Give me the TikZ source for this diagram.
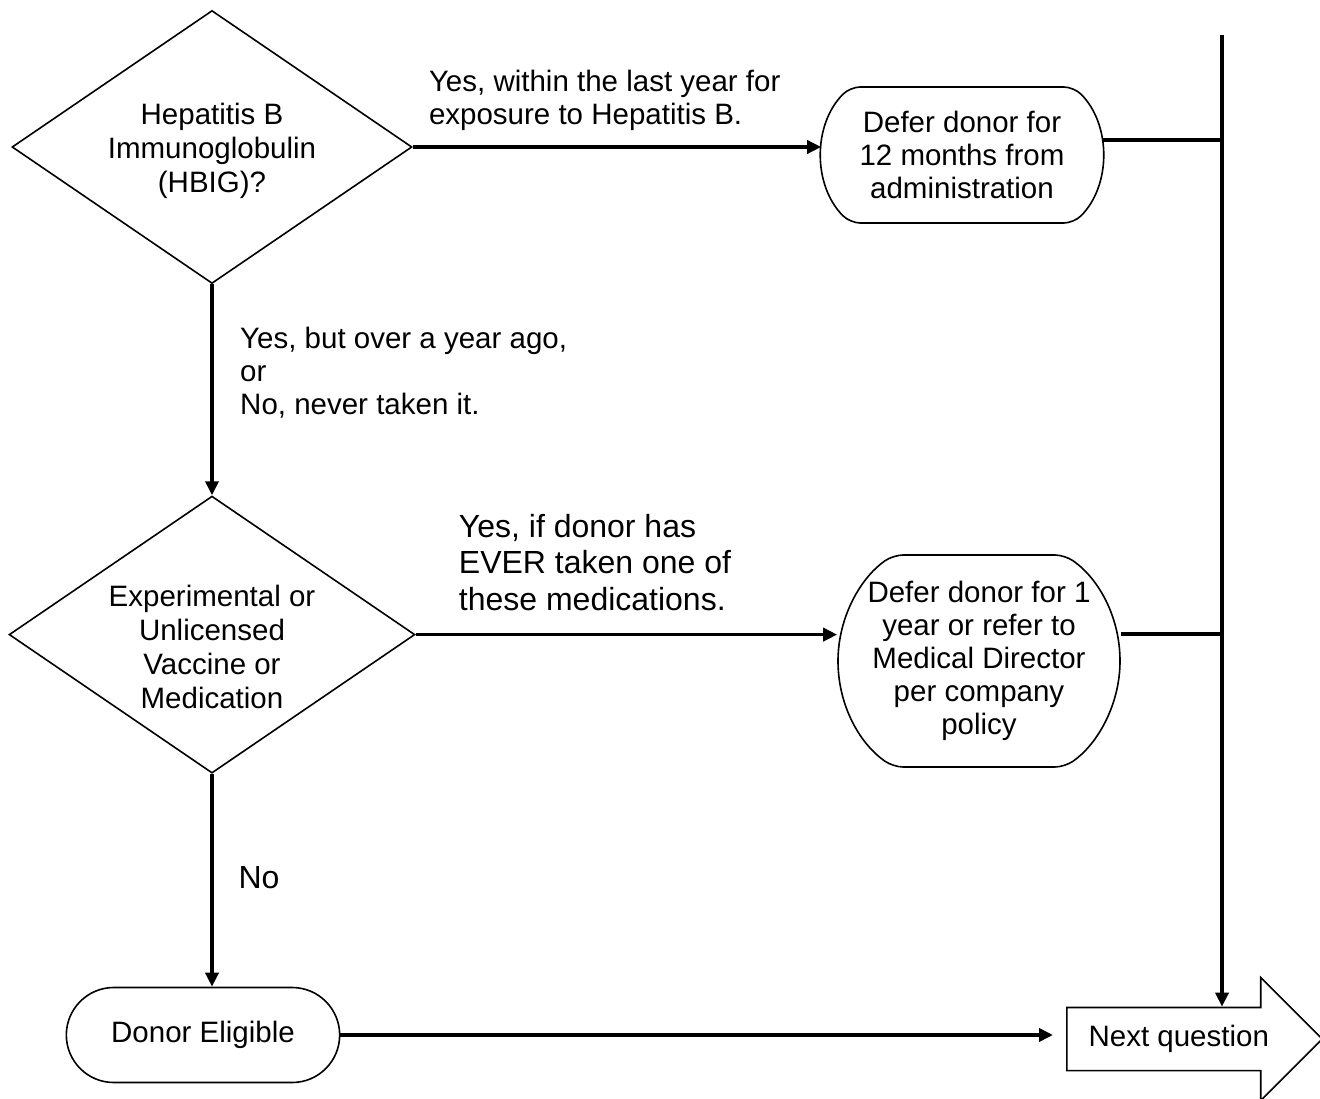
\documentclass[tikz,border=0pt]{standalone}
\usepackage{fontspec}
\setmainfont{Liberation Sans}
\usetikzlibrary{shapes.geometric,shapes.misc,shapes.arrows}
\usetikzlibrary{arrows.meta}
\usetikzlibrary{positioning}

\begin{document}
\begin{tikzpicture}[x=1pt,y=-1pt,>={Triangle[length=14pt,width=13pt]},
    dec/.style={draw,diamond,aspect=1.465,minimum width=400pt,minimum height=273pt,inner sep=0pt,align=center,line width=1.6pt,font=\fontsize{29.5}{34}\selectfont},
    defer/.style={draw,rounded rectangle,rounded rectangle arc length=90,rounded corners=10pt,inner sep=0pt,align=center,line width=1.6pt,font=\fontsize{29.5}{33}\selectfont},
    term/.style={draw,rounded rectangle,minimum width=280pt,minimum height=95pt,line width=1.6pt,font=\fontsize{29.5}{34}\selectfont},
    nextq/.style={draw,single arrow,single arrow head extend=30pt,minimum width=122pt,inner xsep=21pt,inner ysep=17pt,line width=1.6pt,font=\fontsize{29.5}{34}\selectfont},
    lbl/.style={inner sep=0pt,align=left,font=\fontsize{29.5}{33}\selectfont},
    lblbig/.style={inner sep=0pt,align=left,font=\fontsize{32}{36.5}\selectfont},
    conn/.style={line width=3.5pt}]
    \useasboundingbox (0,0) rectangle (1320,1099);

    \node[dec] (hbig) at (212,147) {\raisebox{-5pt}[\height][\depth]{\begin{tabular}{@{}c@{}}Hepatitis B\\Immunoglobulin\\(HBIG)?\end{tabular}}};
    \node[dec, below=211pt of hbig] (exp) {\raisebox{-16pt}[\height][\depth]{\begin{tabular}{@{}c@{}}Experimental or\\Unlicensed\\Vaccine or\\Medication\end{tabular}}};

    \node[defer,minimum width=280pt,minimum height=136pt] (def12) at (962,155) {Defer donor for\\12 months from\\administration};
    \node[defer,rounded rectangle arc length=110,minimum width=282pt,minimum height=212pt] (defmed) at (979,661) {Defer donor for 1\\year or refer to\\Medical Director\\per company\\policy};

    \node[term] (elig) at (203,1035) {Donor Eligible};
    \node[nextq,anchor=tail] (nq) at (1066,1039) {Next question};
    \coordinate (vtop) at (1222,35);

    \node[lbl, above right=16pt and 16pt of hbig.east] (l1) {Yes, within the last year for\\exposure to Hepatitis B.};
    \node[lbl, below right=43pt and 28pt of hbig.south] (l2) {Yes, but over a year ago,\\or\\No, never taken it.};
    \node[lblbig, above right=24pt and 43pt of exp.east] (l3) {Yes, if donor has\\EVER taken one of\\these medications.};
    \node[lblbig] (l4) at (259,878) {No};

    \draw[conn,->] (hbig.east) -- (hbig.east -| def12.west);
    \draw[conn] ([yshift=15pt]def12.east) -- ([yshift=15pt]def12.east -| vtop);
    \draw[conn,->] (hbig) -- (exp);
    \draw[conn,->] (exp.east) -- (exp.east -| defmed.west);
    \draw[conn] ([yshift=27pt]defmed.east) -- ([yshift=27pt]defmed.east -| vtop);
    \draw[conn,->] (exp.south) -- (exp.south |- elig.north);
    \draw[conn,->,shorten >=13pt] (elig.east) -- (elig.east -| nq.tail);
    \draw[conn,->] (vtop) -- (vtop |- nq.north);

\end{tikzpicture}
\end{document}
